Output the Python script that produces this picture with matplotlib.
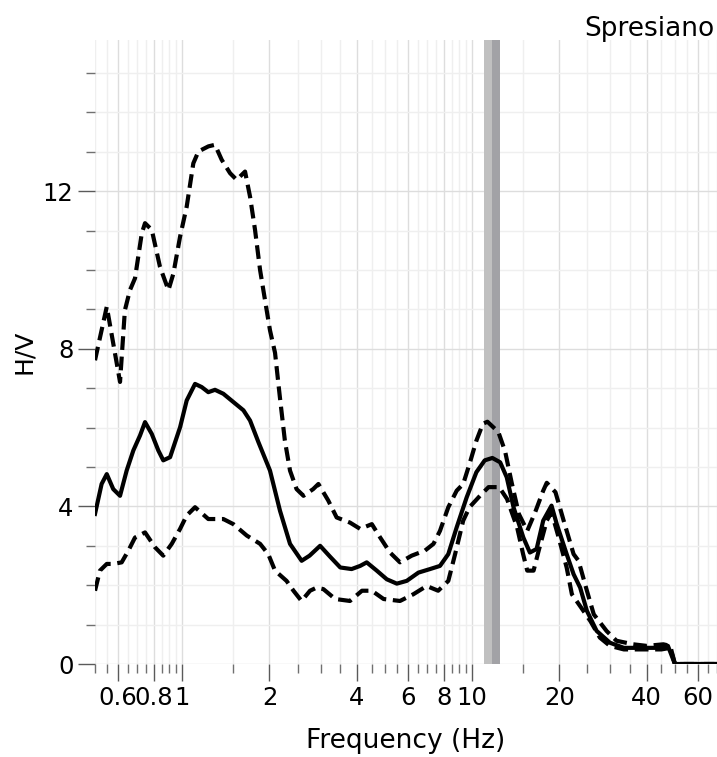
import matplotlib
matplotlib.use("Agg")
import matplotlib.pyplot as plt
import numpy as np

# ---------------- data ----------------
mean_f = [0.50, 0.527, 0.549, 0.578, 0.61, 0.643, 0.678, 0.715, 0.744, 0.785, 0.827, 0.86,
          0.908, 0.983, 1.036, 1.107, 1.167, 1.23, 1.297, 1.386, 1.501, 1.626, 1.714, 1.832,
          2.008, 2.174, 2.354, 2.582, 2.75, 2.99, 3.24, 3.51, 3.84, 4.11, 4.33, 4.69, 5.08,
          5.5, 5.95, 6.53, 7.16, 7.75, 8.28, 8.85, 9.58, 10.35, 11.06, 11.75, 12.5, 13.17,
          13.9, 15.03, 15.83, 16.7, 17.6, 18.8, 19.6, 21.2, 22.4, 23.6, 24.9, 26.9, 29.9,
          33.4, 38.1, 43.3, 47.4, 50.1, 70.0]
mean_hv = [3.81, 4.57, 4.82, 4.44, 4.27, 4.91, 5.42, 5.80, 6.14, 5.84, 5.42, 5.17,
           5.25, 6.01, 6.69, 7.11, 7.03, 6.90, 6.96, 6.86, 6.65, 6.44, 6.18, 5.63,
           4.91, 3.89, 3.05, 2.62, 2.75, 3.00, 2.72, 2.45, 2.41, 2.49, 2.58, 2.37, 2.15,
           2.04, 2.11, 2.32, 2.41, 2.49, 2.79, 3.47, 4.23, 4.87, 5.17, 5.23, 5.12, 4.74,
           3.98, 3.21, 2.83, 2.92, 3.64, 4.02, 3.55, 2.79, 2.28, 1.94, 1.35, 0.84, 0.54,
           0.41, 0.41, 0.41, 0.46, 0.0, 0.0]

upper_f = [0.50, 0.549, 0.61, 0.634, 0.66, 0.687, 0.725, 0.744, 0.785, 0.838, 0.896, 0.932,
           0.983, 1.036, 1.092, 1.137, 1.231, 1.297, 1.368, 1.462, 1.541, 1.647, 1.714,
           1.783, 1.856, 1.905, 2.008, 2.09, 2.17, 2.26, 2.354, 2.48, 2.62, 2.83, 2.95,
           3.19, 3.41, 3.79, 4.11, 4.51, 4.82, 5.21, 5.64, 6.19, 6.88, 7.36, 7.75, 8.28,
           8.85, 9.32, 9.8, 10.35, 10.9, 11.3, 12.32, 13.0, 13.7, 14.5, 15.5, 16.5, 17.6,
           18.1, 19.4, 20.7, 22.4, 23.3, 24.9, 26.3, 29.1, 31.5, 36.0, 40.0, 45.7, 48.3,
           50.1, 70.0]
upper_hv = [7.71, 9.07, 7.16, 8.98, 9.49, 9.79, 10.93, 11.19, 11.02, 10.08, 9.49, 9.91,
            10.85, 11.61, 12.71, 13.01, 13.14, 13.18, 12.80, 12.46, 12.29, 12.50, 11.86,
            11.02, 10.00, 9.49, 8.47, 7.90, 6.80, 5.67, 4.91, 4.44, 4.27, 4.44, 4.57,
            4.15, 3.72, 3.59, 3.43, 3.55, 3.21, 2.83, 2.58, 2.75, 2.88, 3.05, 3.38, 3.98,
            4.40, 4.57, 5.08, 5.67, 6.10, 6.15, 5.89, 5.40, 4.60, 3.81, 3.38, 3.85, 4.40,
            4.60, 4.36, 3.64, 2.79, 2.62, 1.86, 1.26, 0.84, 0.59, 0.50, 0.46, 0.50, 0.46,
            0.0, 0.0]

lower_f = [0.50, 0.52, 0.549, 0.578, 0.618, 0.652, 0.687, 0.744, 0.806, 0.86, 0.92, 0.983,
           1.036, 1.107, 1.23, 1.386, 1.501, 1.67, 1.856, 1.98, 2.09, 2.29, 2.42, 2.58,
           2.76, 2.91, 3.07, 3.37, 3.79, 4.17, 4.51, 4.95, 5.64, 6.27, 6.97, 7.64, 8.28,
           8.74, 9.32, 9.8, 10.65, 11.4, 12.4, 13.2, 14.3, 15.0, 15.5, 16.3, 16.98, 18.1,
           18.8, 19.9, 21.2, 22.1, 23.8, 25.6, 27.6, 29.9, 33.4, 40.0, 45.0, 48.3, 50.1, 70.0]
lower_hv = [1.86, 2.37, 2.54, 2.54, 2.58, 2.88, 3.21, 3.34, 2.96, 2.75, 3.05, 3.43,
            3.77, 3.98, 3.68, 3.68, 3.55, 3.26, 3.05, 2.79, 2.37, 2.11, 1.86, 1.60,
            1.86, 1.94, 1.90, 1.65, 1.60, 1.86, 1.86, 1.65, 1.60, 1.77, 1.98, 1.86, 2.11,
            2.79, 3.64, 3.98, 4.27, 4.49, 4.49, 4.19, 3.47, 2.79, 2.37, 2.37, 2.88, 3.64,
            3.85, 3.21, 2.45, 1.77, 1.43, 1.09, 0.67, 0.46, 0.37, 0.37, 0.37, 0.41, 0.0, 0.0]

f0_band = [11.0, 11.75, 12.5]          # f0 - std, f0, f0 + std

x_major = [0.6, 0.8, 1, 2, 4, 6, 8, 10, 20, 40, 60]
x_major_labels = ["0.6", "0.8", "1", "2", "4", "6", "8", "10", "20", "40", "60"]
y_major = [0, 4, 8, 12]
y_major_labels = ["0", "4", "8", "12"]

station = "Spresiano"
x_title = "Frequency (Hz)"
y_title = "H/V"

# ---------------- figure ----------------
W, H = 717, 757
fig = plt.figure(figsize=(W / 100, H / 100), dpi=100)
left, right, top, bottom = 95, 717, 40, 664
ax = fig.add_axes([left / W, 1 - bottom / H, (right - left) / W, (bottom - top) / H])

ax.set_xscale("log")
ax.set_xlim(0.5, 70)
ax.set_ylim(0, 15.84)

# f0 band
ax.axvspan(f0_band[0], f0_band[1], color="#c0c0c0", lw=0, zorder=1)
ax.axvspan(f0_band[1], f0_band[2], color="#a2a2a6", lw=0, zorder=1)

dash = (0, (3.3, 1.6))
ax.plot(upper_f, upper_hv, color="black", lw=3, ls=dash, zorder=3)
ax.plot(lower_f, lower_hv, color="black", lw=3, ls=dash, zorder=3)
ax.plot(mean_f, mean_hv, color="black", lw=3, zorder=4, solid_joinstyle="round")

# ticks
minor_x = sorted(set(np.round(np.concatenate([np.arange(0.5, 1.0, 0.05),
                                              np.arange(1.5, 10.0, 0.5),
                                              np.arange(15, 71, 5)]), 3)) - set(x_major))
ax.set_xticks(x_major)
ax.set_xticklabels(x_major_labels)
ax.set_xticks(minor_x, minor=True)
ax.xaxis.set_minor_formatter(matplotlib.ticker.NullFormatter())
ax.set_yticks(y_major)
ax.set_yticklabels(y_major_labels)
ax.set_yticks([v for v in range(0, 16) if v not in y_major], minor=True)

ax.tick_params(which="major", length=12.5, width=1.0, color="#5a5a5a",
               labelsize=17.5, pad=3, direction="out")
ax.tick_params(which="minor", length=6.5, width=1.0, color="#707070", direction="out")

for s in ax.spines.values():
    s.set_visible(False)

ax.set_axisbelow(True)
ax.grid(which="major", color="#dddddd", lw=1.0)
ax.grid(which="minor", color="#efefef", lw=1.0)

ax.set_xlabel(x_title, fontsize=19, labelpad=13)
ax.set_ylabel(y_title, fontsize=18, labelpad=5)
fig.text(714 / W, 1 - 36 / H, station, ha="right", va="baseline", fontsize=19)

fig.savefig("out.png", dpi=100)
